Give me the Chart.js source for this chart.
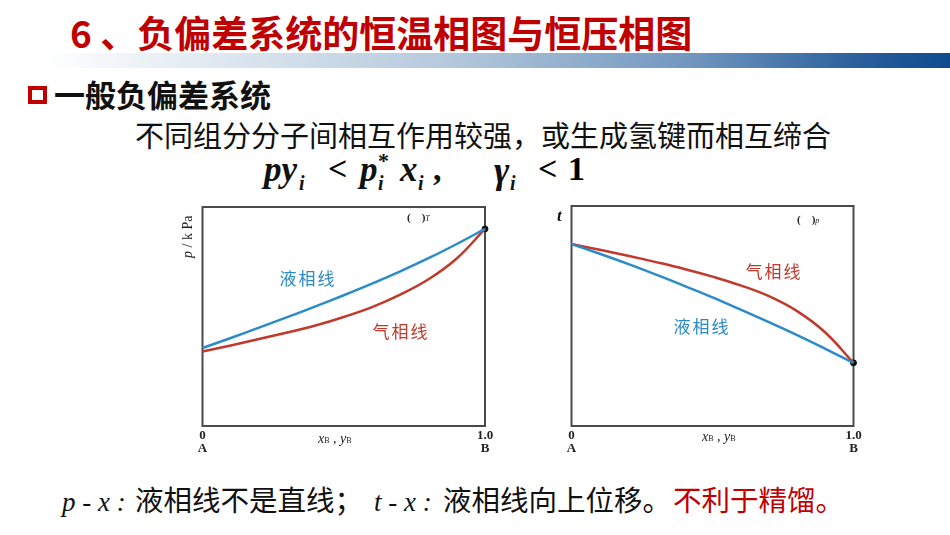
<!DOCTYPE html>
<html><head><meta charset="utf-8">
<script src="https://cdn.jsdelivr.net/npm/chart.js@4.4.1/dist/chart.umd.min.js"></script>
<style>
html,body{margin:0;padding:0;background:#fff;}
#slide{position:relative;width:950px;height:535px;overflow:hidden;background:#fff;font-family:'Noto Sans CJK SC',sans-serif;}
.abs{position:absolute;white-space:nowrap;line-height:1;}
.ser{font-family:'Liberation Serif','DejaVu Serif',serif;}
.f{font-family:'Liberation Serif',serif;font-weight:bold;font-style:italic;color:#111;}
.cbox{position:absolute;width:340px;height:270px;}
.lbl{font-family:'Noto Sans CJK SC',sans-serif;font-size:17px;letter-spacing:2px;transform:translate(-50%,-50%);}
</style></head>
<body><div id="slide">
  <div class="abs" style="left:43px;top:53px;width:907px;height:15px;background:linear-gradient(to right,#ffffff 0%,#e6edf4 15%,#b4c8dc 45%,#6f95be 72%,#2a5f9c 90%,#0e4b8e 100%);"></div>
  <div class="abs" style="left:70px;top:14px;font-size:37px;font-weight:bold;color:#C00000;">6 、负偏差系统的恒温相图与恒压相图</div>

  <div class="abs" style="left:28px;top:86px;width:11px;height:10px;border:4px solid #C00000;background:#fff;"></div>
  <div class="abs" style="left:54px;top:78px;font-size:31px;font-weight:bold;color:#111;">一般负偏差系统</div>
  <div class="abs" style="left:135px;top:120px;font-size:29px;color:#111;">不同组分分子间相互作用较强，或生成氢键而相互缔合</div>

  <!-- formula -->
  <div class="abs f" style="left:264px;top:152px;font-size:35px;">py</div>
  <div class="abs f" style="left:299px;top:173px;font-size:20px;">i</div>
  <div class="abs ser" style="left:328px;top:152px;font-size:34px;font-weight:bold;">&lt;</div>
  <div class="abs f" style="left:360px;top:152px;font-size:35px;">p</div>
  <div class="abs f" style="left:378px;top:150px;font-size:22px;font-style:normal;">*</div>
  <div class="abs f" style="left:378px;top:173px;font-size:20px;">i</div>
  <div class="abs f" style="left:400px;top:152px;font-size:35px;">x</div>
  <div class="abs f" style="left:418px;top:173px;font-size:20px;">i</div>
  <div class="abs f" style="left:433px;top:152px;font-size:34px;font-style:normal;">,</div>
  <div class="abs f" style="left:494px;top:152px;font-size:37px;">γ</div>
  <div class="abs f" style="left:510px;top:173px;font-size:20px;">i</div>
  <div class="abs ser" style="left:538px;top:152px;font-size:34px;font-weight:bold;">&lt;</div>
  <div class="abs ser" style="left:568px;top:152px;font-size:34px;font-weight:bold;">1</div>

  <!-- charts -->
  <div class="cbox" style="left:160px;top:195px;"><canvas id="c1"></canvas></div>
  <div class="cbox" style="left:540px;top:195px;"><canvas id="c2"></canvas></div>

  <!-- left chart annotations -->
  <div class="abs ser" style="left:181px;top:258px;font-size:14px;transform:rotate(-90deg);transform-origin:0 0;color:#222;"><i>p</i> / k Pa</div>
  <div class="abs ser" style="left:407px;top:212px;font-size:11px;font-weight:bold;color:#222;">(&nbsp;&nbsp;&nbsp;&nbsp;)<i style="font-size:8px;font-weight:normal;">T</i></div>
  <div class="abs ser" style="left:318px;top:432px;font-size:14px;color:#222;"><i>x</i><span style="font-size:8px;">B</span> , <i>y</i><span style="font-size:8px;">B</span></div>
  <div class="abs lbl" style="left:308px;top:277px;color:#2a8ac6;">液相线</div>
  <div class="abs lbl" style="left:401px;top:330px;color:#c0392b;">气相线</div>

  <!-- right chart annotations -->
  <div class="abs f" style="left:557px;top:207px;font-size:17px;">t</div>
  <div class="abs ser" style="left:797px;top:214px;font-size:11px;font-weight:bold;color:#222;">(&nbsp;&nbsp;&nbsp;&nbsp;)<i style="font-size:8px;font-weight:normal;">p</i></div>
  <div class="abs ser" style="left:702px;top:430px;font-size:14px;color:#222;"><i>x</i><span style="font-size:8px;">B</span> , <i>y</i><span style="font-size:8px;">B</span></div>
  <div class="abs lbl" style="left:774px;top:270px;color:#c0392b;">气相线</div>
  <div class="abs lbl" style="left:702px;top:325px;color:#2a8ac6;">液相线</div>

  <!-- bottom line -->
  <div class="abs ser" style="left:62px;top:489px;font-size:27px;font-style:italic;color:#111;">p - x :</div>
  <div class="abs" style="left:135px;top:485px;font-size:28.5px;color:#111;">液相线不是直线；</div>
  <div class="abs ser" style="left:374px;top:489px;font-size:27px;font-style:italic;color:#111;">t - x :</div>
  <div class="abs" style="left:443px;top:485px;font-size:28.5px;color:#111;">液相线向上位移。</div>
  <div class="abs" style="left:673px;top:485px;font-size:28.5px;color:#C00000;">不利于精馏。</div>
</div>
<script>
// ---- data ----
const compositions = [0, 0.1, 0.2, 0.3, 0.4, 0.5, 0.6, 0.7, 0.8, 0.9, 1.0];
// p-x (constant T) diagram
const pxLiquid = [35.6, 40.2, 44.9, 49.7, 54.6, 59.7, 65.0, 70.6, 76.6, 83.1, 90.0];
const pxVapor  = [34.0, 36.8, 39.7, 42.7, 45.9, 49.8, 54.3, 60.0, 67.0, 76.5, 90.0];
const pxPureB  = 90.0;
// t-x (constant p) diagram
const txLiquid = [82.7, 78.3, 73.7, 68.8, 63.7, 58.5, 52.9, 47.2, 41.3, 35.1, 28.7];
const txVapor  = [82.7, 80.1, 77.4, 74.5, 71.4, 67.9, 63.9, 59.0, 52.2, 42.5, 28.7];
const txPureB  = 28.7;
// tick labels
const xTickValues = [0, 1];
const xTickLabels = ['0', '1.0'];
const xEndLabels  = ['A', 'B'];

const BLUE = '#2a8bca', RED = '#c0392b';

const boxPlugin = {
  id: 'box',
  beforeDatasetsDraw(chart) {
    const {ctx, chartArea: a} = chart;
    ctx.save();
    ctx.strokeStyle = '#4a4a4a';
    ctx.lineWidth = 2;
    ctx.strokeRect(a.left, a.top, a.right - a.left, a.bottom - a.top);
    ctx.restore();
  }
};

function pts(vals) { return compositions.map((x, i) => ({x: x, y: vals[i]})); }

function makeChart(id, liquid, vapor, pureB, pad) {
  new Chart(document.getElementById(id), {
    type: 'line',
    data: {
      datasets: [
        {data: pts(liquid), borderColor: BLUE, borderWidth: 2.5, pointRadius: 0, tension: 0.4, fill: false, clip: false},
        {data: pts(vapor), borderColor: RED, borderWidth: 2.5, pointRadius: 0, tension: 0.4, fill: false, clip: false},
        {data: [{x: 1, y: pureB}], showLine: false, pointRadius: 3, pointBackgroundColor: '#111', pointBorderColor: '#111', clip: false}
      ]
    },
    options: {
      responsive: true, maintainAspectRatio: false, animation: false,
      layout: {padding: pad},
      plugins: {legend: {display: false}, tooltip: {enabled: false}},
      scales: {
        x: {
          type: 'linear', min: 0, max: 1,
          grid: {display: false, drawTicks: false},
          border: {display: false},
          afterBuildTicks: s => { s.ticks = xTickValues.map(v => ({value: v})); },
          afterFit: s => { s.height = 35; },
          ticks: {
            autoSkip: false, maxRotation: 0, padding: 3, color: '#222',
            font: {family: 'Liberation Serif', weight: 'bold', size: 13, lineHeight: 1},
            callback: (v, i) => [xTickLabels[i], xEndLabels[i]]
          }
        },
        y: {display: false, min: 0, max: 100}
      }
    },
    plugins: [boxPlugin]
  });
}

makeChart('c1', pxLiquid, pxVapor, pxPureB, {left: 42.5, right: 15, top: 12, bottom: 4});
makeChart('c2', txLiquid, txVapor, txPureB, {left: 31.5, right: 26.5, top: 11, bottom: 4});
</script>
</body></html>
